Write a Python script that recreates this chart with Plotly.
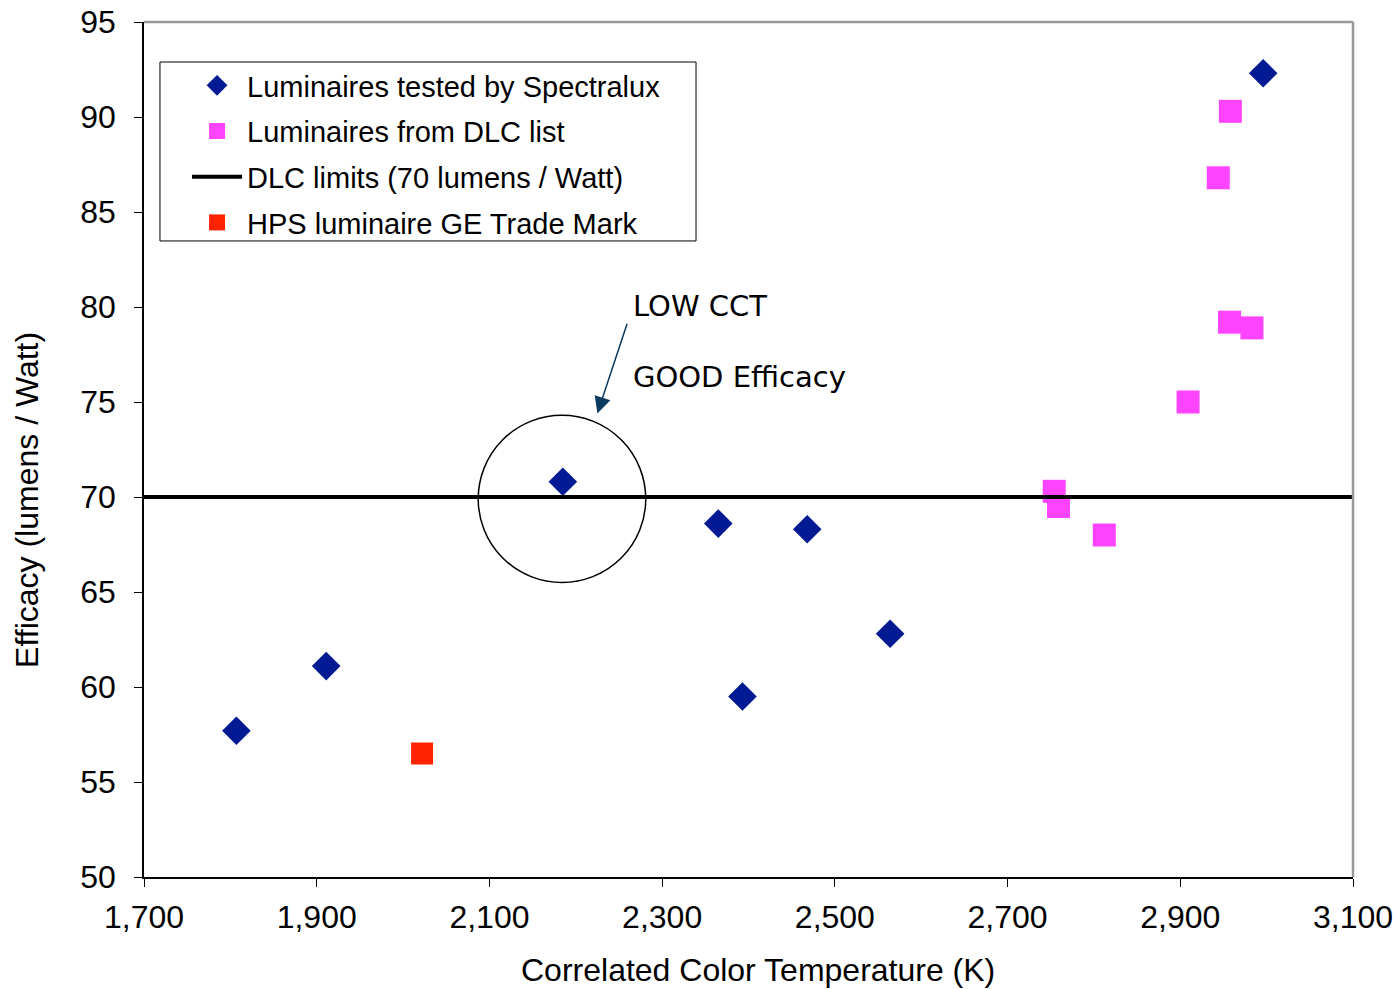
import plotly.graph_objects as go

# Luminaires tested by Spectralux: CCT (K) and efficacy (lm/W)
spectralux_cct = [1807, 1911, 2185, 2365, 2393, 2468, 2564, 2996]
spectralux_eff = [57.7, 61.1, 70.8, 68.6, 59.5, 68.3, 62.8, 92.3]

# Luminaires from the DLC list
dlc_cct = [2958, 2944, 2957, 2983, 2909, 2754, 2759, 2812]
dlc_eff = [90.3, 86.8, 79.2, 78.9, 75.0, 70.3, 69.5, 68.0]

# HPS luminaire (GE trade mark)
hps_cct = [2022]
hps_eff = [56.5]

# DLC efficacy limit
dlc_limit = 70
x_range = [1700, 3100]
y_range = [50, 95]
x_ticks = [1700, 1900, 2100, 2300, 2500, 2700, 2900, 3100]
y_ticks = [50, 55, 60, 65, 70, 75, 80, 85, 90, 95]

AXIS_FONT = "Liberation Sans, Arial, sans-serif"
NOTE_FONT = "DejaVu Sans, Verdana, sans-serif"

fig = go.Figure()

fig.add_trace(go.Scatter(
    x=spectralux_cct, y=spectralux_eff, mode="markers",
    name="Luminaires tested by Spectralux", legendgroup="a",
    marker=dict(symbol="diamond", size=22, color="#001a94"),
))
fig.add_trace(go.Scatter(
    x=dlc_cct, y=dlc_eff, mode="markers",
    name="Luminaires from DLC list", legendgroup="b",
    marker=dict(symbol="square", size=23, color="#ff44ff"),
))
fig.add_trace(go.Scatter(
    x=x_range, y=[dlc_limit, dlc_limit], mode="lines",
    name="DLC limits (70 lumens / Watt)", legendgroup="c",
    line=dict(color="black", width=4),
))
fig.add_trace(go.Scatter(
    x=hps_cct, y=hps_eff, mode="markers",
    name="HPS luminaire GE Trade Mark", legendgroup="d",
    marker=dict(symbol="square", size=22, color="#ff2200"),
))

# circle highlighting the low-CCT / good-efficacy luminaire
fig.add_shape(type="circle", xref="x", yref="y",
              x0=2087, x1=2281, y0=65.5, y1=74.3,
              line=dict(color="black", width=1.5), layer="above")

# gray frame on the top and right of the plot area
fig.add_shape(type="line", xref="paper", yref="paper", x0=0, x1=1, y0=1, y1=1,
              line=dict(color="#999999", width=2.5))
fig.add_shape(type="line", xref="paper", yref="paper", x0=1, x1=1, y0=0, y1=1,
              line=dict(color="#999999", width=2.5))

# legend frame
fig.add_shape(type="rect", xref="paper", yref="paper",
              x0=0.0132, x1=0.4566, y0=0.7439, y1=0.9532,
              line=dict(color="black", width=1), layer="below")

fig.add_annotation(x=2225, y=74.4, ax=2260, ay=79.2, xref="x", yref="y",
                   axref="x", ayref="y", text="", showarrow=True,
                   arrowhead=2, arrowsize=2.2, arrowwidth=1.5,
                   arrowcolor="#0b3a60")
fig.add_annotation(x=2264, y=80.04, xref="x", yref="y", text="LOW CCT",
                   showarrow=False, xanchor="left", yanchor="middle",
                   font=dict(family=NOTE_FONT, size=29, color="black"))
fig.add_annotation(x=2264, y=76.34, xref="x", yref="y", text="GOOD Efficacy",
                   showarrow=False, xanchor="left", yanchor="middle",
                   font=dict(family=NOTE_FONT, size=29, color="black"))

# axis titles
fig.add_annotation(x=-0.0968, y=0.441, xref="paper", yref="paper",
                   text="Efficacy (lumens / Watt)", textangle=-90,
                   showarrow=False, xanchor="center", yanchor="middle",
                   font=dict(family=AXIS_FONT, size=32, color="black"))
fig.add_annotation(x=0.5078, y=-0.1088, xref="paper", yref="paper",
                   text="Correlated Color Temperature (K)",
                   showarrow=False, xanchor="center", yanchor="middle",
                   font=dict(family=AXIS_FONT, size=32, color="black"))

fig.update_layout(
    width=1396, height=989,
    margin=dict(l=144, r=43, t=22, b=112),
    paper_bgcolor="white", plot_bgcolor="white",
    font=dict(family=AXIS_FONT, color="black"),
    showlegend=True,
    legend=dict(
        x=0.0356, y=0.9556, xanchor="left", yanchor="top",
        bgcolor="rgba(0,0,0,0)", borderwidth=0,
        font=dict(family=AXIS_FONT, size=29, color="black"),
        tracegroupgap=5, itemwidth=50,
    ),
    xaxis=dict(
        range=x_range, tickvals=x_ticks, tickformat=",d", automargin=False,
        showgrid=False, zeroline=False,
        showline=True, linecolor="black", linewidth=1.5,
        ticks="outside", ticklen=8, tickcolor="black", tickwidth=1,
        ticklabelstandoff=3,
        tickfont=dict(family=AXIS_FONT, size=32),
    ),
    yaxis=dict(
        range=y_range, tickvals=y_ticks, automargin=False,
        showgrid=False, zeroline=False,
        showline=True, linecolor="black", linewidth=1.5,
        ticks="outside", ticklen=8, tickcolor="black", tickwidth=1,
        ticklabelstandoff=12,
        tickfont=dict(family=AXIS_FONT, size=32),
    ),
)

fig.write_html("out.html")
